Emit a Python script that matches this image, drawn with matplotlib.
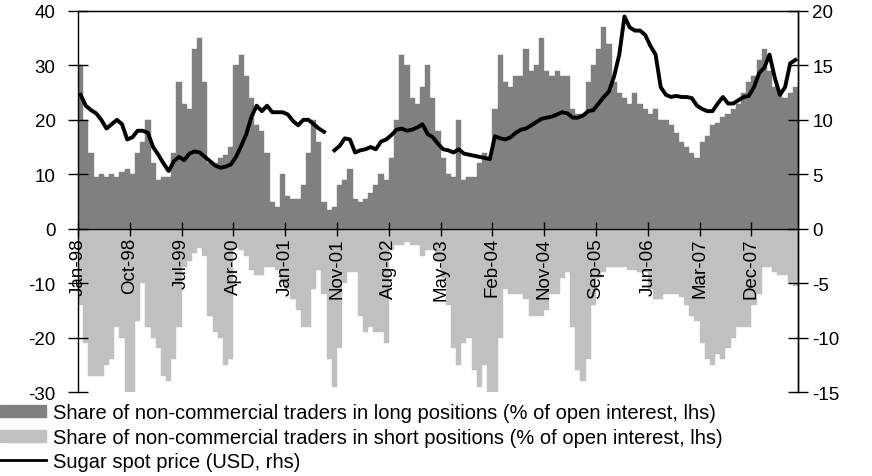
import numpy as np
import matplotlib
matplotlib.use("Agg")
import matplotlib.pyplot as plt
from matplotlib.patches import Patch
from matplotlib.lines import Line2D

plt.rcParams['font.family'] = ['Liberation Sans', 'DejaVu Sans']

# ticks every 40 weeks, starting Jan-98
tick_labels = ['Jan-98', 'Oct-98', 'Jul-99', 'Apr-00', 'Jan-01', 'Nov-01', 'Aug-02',
               'May-03', 'Feb-04', 'Nov-04', 'Sep-05', 'Jun-06', 'Mar-07', 'Dec-07']

# values, one per 4-week period (Jan 1998 - mid 2008)
long_share = [
    30, 20, 14, 9.5, 10, 9.5, 10, 9.5, 10.5, 11,
    10, 14, 16, 20, 12, 9, 9.5, 9.5, 14, 27,
    23, 22, 33, 35, 27, 12, 12, 13, 13.5, 15,
    30, 32, 28, 24, 19, 18, 14, 5, 4, 10,
    6, 5.5, 5.5, 8, 14, 20, 16, 5, 3.5, 4,
    8, 9, 11, 5.5, 5, 5.5, 6.5, 8, 10, 9,
    13, 20, 32, 30, 24, 23, 26, 30, 24, 18,
    13, 10, 9.5, 20, 9, 9.5, 9.5, 12, 14, 13,
    22, 32, 27, 26, 28, 28, 33, 29, 30, 35,
    29, 28, 29, 28, 28, 22, 21, 21, 27, 30,
    33, 37, 34, 27, 25, 24, 23, 25, 23, 22,
    21, 22, 20, 20, 19, 17.5, 16, 15, 14, 13,
    16, 17, 19, 19.5, 20.5, 21, 22, 23, 25, 27,
    28, 31, 33, 29, 26, 25, 24, 25, 26,
]

short_share = [
    -14, -21, -27, -27, -27, -25, -24, -18, -20, -30,
    -31, -17, -10, -18, -20, -22, -27, -28, -24, -18,
    -7, -6, -4.5, -3.5, -5, -16, -19, -20, -25, -24,
    -3.5, -4, -5, -7.5, -8.5, -8.5, -7, -7, -7.5, -10,
    -11, -13, -15, -18, -18, -11, -7.5, -12, -24, -29,
    -22, -10, -8, -8, -16, -19, -18, -19, -19, -21,
    -4, -3, -3, -2.5, -3, -3, -5, -4, -4, -6,
    -9, -14, -22, -25, -21, -20, -26, -29, -25, -31,
    -31, -20, -11, -12, -12, -12, -13, -16, -16, -16,
    -15, -12, -12, -9, -8, -18, -26, -28, -24, -14,
    -9, -8, -7, -7, -7, -7, -7.5, -7.5, -8, -8,
    -11, -13, -13, -12, -12, -12, -12.5, -14, -16, -17,
    -21, -24, -25, -23, -24, -22, -20, -18, -18, -18,
    -14, -12, -7, -7, -8, -8.5, -8.5, -10, -10.5,
]

sugar_price = [
    12.3, 11.3, 10.9, 10.6, 10.0, 9.2, 9.6, 10.0, 9.6, 8.2,
    8.4, 9.0, 9.0, 8.8, 7.5, 6.8, 6.0, 5.3, 6.2, 6.6,
    6.3, 6.9, 7.1, 7.0, 6.6, 6.2, 5.8, 5.6, 5.7, 5.9,
    6.6, 7.6, 8.7, 10.3, 11.3, 10.8, 11.3, 10.7, 10.7, 10.7,
    10.5, 9.9, 9.5, 10.0, 10.0, 9.6, 9.2, 8.9, np.nan, 7.2,
    7.6, 8.3, 8.2, 7.0, 7.2, 7.3, 7.5, 7.3, 8.0, 8.2,
    8.6, 9.1, 9.2, 9.0, 9.1, 9.3, 9.6, 8.7, 8.4, 7.8,
    7.3, 7.2, 7.0, 7.3, 6.9, 6.8, 6.7, 6.6, 6.5, 6.4,
    8.5, 8.3, 8.2, 8.4, 8.8, 9.1, 9.2, 9.5, 9.8, 10.1,
    10.2, 10.3, 10.5, 10.7, 10.6, 10.2, 10.2, 10.4, 10.8, 10.9,
    11.5, 12.1, 12.6, 14.0, 16.0, 19.5, 18.5, 18.2, 18.2, 17.8,
    16.8, 16.0, 13.0, 12.3, 12.1, 12.2, 12.1, 12.1, 12.0, 11.3,
    11.0, 10.8, 10.8, 11.5, 12.1, 11.5, 11.5, 11.8, 12.1, 12.2,
    13.0, 14.3, 14.8, 16.0, 13.9, 12.3, 13.0, 15.2, 15.5,
]

n = len(long_share)
idx = np.arange(n)

fig = plt.figure(figsize=(8.72, 4.77), dpi=100)
ax = fig.add_axes([78 / 872, 1 - 393 / 477, 720 / 872, 381 / 477])

dark = '#808080'
light = '#c0c0c0'
ax.bar(idx, long_share, width=1.0, align='edge', color=dark, edgecolor=dark, linewidth=0.3)
ax.bar(idx, short_share, width=1.0, align='edge', color=light, edgecolor=light, linewidth=0.3)

ax.set_xlim(0, n)
ax.set_ylim(-30, 40)
ax.set_yticks(range(-30, 41, 10))
ax.set_yticklabels(['-30', '-20', '-10', '0', '10', '20', '30', '40'])

ax.spines['bottom'].set_position(('data', 0))
ax.set_xticks(np.arange(0, n, 10))
ax.set_xticklabels(tick_labels, rotation=90, va='top', ha='center')
ax.tick_params(axis='x', direction='inout', length=10, width=1, pad=1, labelsize=13.5)
ax.tick_params(axis='y', direction='inout', length=14.4, width=1, pad=9, labelsize=13.5)
for s in ax.spines.values():
    s.set_linewidth(1)

ax2 = ax.twinx()
ax2.plot(idx + 0.5, sugar_price, color='black', linewidth=2.8, solid_joinstyle='round')
ax2.set_ylim(-15, 20)
ax2.set_yticks(range(-15, 21, 5))
ax2.set_yticklabels(['-15', '-10', '-5', '0', '5', '10', '15', '20'])
ax2.tick_params(axis='y', direction='inout', length=14.4, width=1, pad=3, labelsize=13.5)
ax2.spines['bottom'].set_visible(False)
ax2.spines['left'].set_visible(False)
ax2.spines['right'].set_linewidth(1)

handles = [Patch(color=dark), Patch(color=light), Line2D([], [], color='black', linewidth=2)]
labels = ['Share of non-commercial traders in long positions (% of open interest, lhs)',
          'Share of non-commercial traders in short positions (% of open interest, lhs)',
          'Sugar spot price (USD, rhs)']
fig.legend(handles, labels, loc='upper left', bbox_to_anchor=(0.0, 0.152),
           frameon=False, borderaxespad=0, borderpad=0, handlelength=2.3,
           handleheight=0.55, handletextpad=0.35, labelspacing=0.26, fontsize=14.5)

fig.savefig('out.png', dpi=100)
